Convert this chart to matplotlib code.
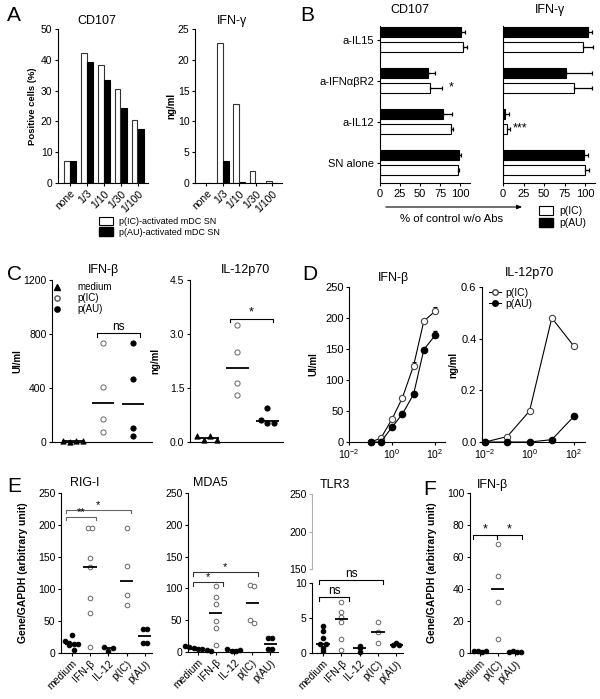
import numpy as np
import matplotlib
matplotlib.use("Agg")
import matplotlib.pyplot as plt
from matplotlib.patches import Patch
from matplotlib.lines import Line2D
from matplotlib.ticker import NullLocator, FormatStrFormatter

plt.rcParams["font.family"] = ["Liberation Sans", "DejaVu Sans"]
plt.rcParams["font.size"] = 7.5
plt.rcParams["mathtext.default"] = "regular"
plt.rcParams["axes.linewidth"] = 0.8
plt.rcParams["xtick.major.width"] = 0.8
plt.rcParams["ytick.major.width"] = 0.8
plt.rcParams["xtick.major.size"] = 2.5
plt.rcParams["ytick.major.size"] = 2.5
plt.rcParams["xtick.major.pad"] = 1.5
plt.rcParams["ytick.major.pad"] = 1.5

W, H = 600, 699

# A - NK activation by mDC supernatant dilutions
dil = ["none", "1/3", "1/10", "1/30", "1/100"]
a_cd107_ic = [7.3, 42.2, 38.2, 30.6, 20.3]
a_cd107_au = [7.3, 39.4, 33.3, 24.4, 17.4]
a_ifng_ic = [0.0, 22.8, 12.8, 1.9, 0.27]
a_ifng_au = [0.0, 3.5, 0.2, 0.0, 0.0]

# B - blocking antibodies, % of control
blk = ["a-IL15", "a-IFNαβR2", "a-IL12", "SN alone"]
b_cd107_ic = [103.7, 62.6, 88.5, 96.7]
b_cd107_ic_err = [5.0, 14.3, 2.5, 2.1]
b_cd107_au = [101.0, 59.6, 78.0, 98.0]
b_cd107_au_err = [4.8, 8.4, 11.0, 3.0]
b_ifng_ic = [97.0, 87.0, 5.3, 100.0]
b_ifng_ic_err = [13.0, 21.0, 3.2, 5.0]
b_ifng_au = [104.0, 77.0, 2.4, 99.0]
b_ifng_au_err = [4.0, 31.0, 4.9, 5.0]

# C - cytokines in mDC SN
c_ifnb_med = [5, 3, 4, 6]
c_ifnb_ic = [731, 405, 170, 72]
c_ifnb_au = [731, 467, 101, 47]
c_il12_med = [0.17, 0.05, 0.17, 0.05]
c_il12_ic = [3.25, 2.49, 1.63, 1.31]
c_il12_au = [0.95, 0.62, 0.52, 0.52]

# D - dose response
d_conc = [0.1, 0.3, 1, 3, 10, 30, 100]
d_ifnb_ic = [0, 6, 37, 71, 123, 195, 211]
d_ifnb_ic_err = [0, 0, 2, 2, 6, 3, 6]
d_ifnb_au = [0, 0, 24, 45, 77, 149, 172]
d_ifnb_au_err = [0, 0, 0, 0, 0, 0, 7]
d_il12_conc = [0.01, 0.1, 1, 10, 100]
d_il12_ic = [0, 0.021, 0.12, 0.48, 0.37]
d_il12_au = [0, 0, 0, 0.009, 0.10]

# E - gene expression
e_cat = ["medium", "IFN-β", "IL-12", "p(IC)", "p(AU)"]
rig_med = [28, 19, 15, 14, 14, 12, 5]
rig_ifnb = [196, 196, 148, 135, 86, 63, 9]
rig_il12 = [9, 3, 8]
rig_ic = [196, 136, 90, 75]
rig_au = [37, 37, 15, 15]
mda_med = [9, 8, 7, 5, 4, 3, 2]
mda_ifnb = [103, 87, 76, 48, 37, 11]
mda_il12 = [4, 2, 1, 3]
mda_ic = [105, 103, 51, 45]
mda_au = [22, 22, 4, 4]
tlr_med = [3.2, 3.8, 2.1, 1.3, 1.3, 0.7, 0.3]
tlr_ifnb = [7.3, 5.8, 5.2, 4.4, 2.0, 0.5]
tlr_il12 = [1.05, 0.7, 0.1]
tlr_ic = [4.5, 3.0, 1.4]
tlr_au = [1.5, 1.1, 1.1]

# F - IFN-b expression
f_cat = ["Medium", "p(IC)", "p(AU)"]
f_med = [1.0, 1.5, 0.6, 1.2]
f_ic = [68.3, 48.3, 31.9, 8.9]
f_au = [0.4, 1.0, 0.7, 0.9]

fig = plt.figure(figsize=(W / 100, H / 100), dpi=100)


def axes_px(l, t, r, b):
    ax = fig.add_axes([l / W, 1 - b / H, (r - l) / W, (b - t) / H])
    ax.spines["top"].set_visible(False)
    ax.spines["right"].set_visible(False)
    ax.px = (l, t, r, b)
    return ax


def ylab(ax, txt, xpx, fs=7):
    l, t, r, b = ax.px
    ax.set_ylabel(txt, fontweight="bold", fontsize=fs)
    ax.yaxis.set_label_coords((xpx - l) / (r - l), 0.5)


def ftext(xpx, ypx, txt, **kw):
    fig.text(xpx / W, 1 - ypx / H, txt, **kw)


def swarm(vals, tol, step):
    vals = np.asarray(vals, float)
    offs = np.zeros(len(vals))
    used = np.zeros(len(vals), bool)
    for i in np.argsort(vals):
        if used[i]:
            continue
        idx = [j for j in range(len(vals)) if not used[j] and abs(vals[j] - vals[i]) <= tol]
        for m, j in enumerate(idx):
            offs[j] = (m - (len(idx) - 1) / 2) * step
            used[j] = True
    return offs


def dots(ax, groups, fills, ymax, markers=None, s=12, half=0.36, step=0.24):
    for i, vals in enumerate(groups):
        mk = markers[i] if markers else "o"
        off = swarm(vals, 0.035 * ymax, step)
        if fills[i]:
            fc, ec = "black", "black"
        else:
            fc, ec = "white", "#666666"
        ax.scatter(i + off, vals, s=s, marker=mk, facecolor=fc, edgecolor=ec,
                   lw=0.7, zorder=3, clip_on=False)
        m = np.median(vals)
        ax.plot([i - half, i + half], [m, m], color="black", lw=1.3, zorder=4,
                solid_capstyle="butt")


def bracket(ax, x1, x2, y, txt, dy, color="black", fs=7.5):
    ax.plot([x1, x1, x2, x2], [y - dy, y, y, y - dy], color=color, lw=0.8,
            clip_on=False)
    ax.text((x1 + x2) / 2, y, txt, ha="center", va="bottom", fontsize=fs)


# ---------------- A
xa = np.arange(len(dil))
axA1 = axes_px(58, 29, 148, 183)
axA2 = axes_px(195, 29, 282, 183)
for ax, ic, au, ymax, step in [(axA1, a_cd107_ic, a_cd107_au, 50, 10),
                               (axA2, a_ifng_ic, a_ifng_au, 25, 5)]:
    ax.bar(xa - 0.19, ic, 0.34, color="white", edgecolor="#333333", lw=0.8)
    ax.bar(xa + 0.19, au, 0.34, color="black", edgecolor="black", lw=0.8)
    ax.set_xlim(-0.7, 4.6)
    ax.set_ylim(0, ymax)
    ax.set_yticks(np.arange(0, ymax + 1, step))
    ax.set_xticks(xa)
    ax.set_xticklabels(dil, rotation=45, ha="right", rotation_mode="anchor")
ylab(axA1, "Positive cells (%)", 37, fs=6.8)
ylab(axA2, "ng/ml", 176)
ftext(97, 21, "CD107", ha="center", va="center", fontsize=9)
ftext(232, 21, "IFN-γ", ha="center", va="center", fontsize=9)
fig.legend(handles=[Patch(facecolor="white", edgecolor="black", lw=0.8),
                    Patch(facecolor="black", edgecolor="black")],
           labels=["p(IC)-activated mDC SN", "p(AU)-activated mDC SN"],
           loc="upper left", bbox_to_anchor=(94 / W, 1 - 212 / H), frameon=False,
           handlelength=1.6, handleheight=1.0, handletextpad=0.7,
           labelspacing=0.2, borderpad=0, fontsize=6.5)

# ---------------- B
yb = np.arange(len(blk))
axB1 = axes_px(380, 26, 470, 183)
axB2 = axes_px(503, 26, 595, 183)
ekw = dict(lw=0.9, capsize=1.6, capthick=0.9, ecolor="black")
for ax, ic, ice, au, aue in [(axB1, b_cd107_ic, b_cd107_ic_err, b_cd107_au, b_cd107_au_err),
                             (axB2, b_ifng_ic, b_ifng_ic_err, b_ifng_au, b_ifng_au_err)]:
    ax.barh(yb - 0.18, au, 0.26, color="black", edgecolor="black", lw=0.8,
            xerr=[np.zeros(len(aue)), aue], error_kw=ekw)
    ax.barh(yb + 0.18, ic, 0.26, color="white", edgecolor="black", lw=0.8,
            xerr=[np.zeros(len(ice)), ice], error_kw=ekw)
    ax.set_xlim(0, 112)
    ax.set_ylim(3.5, -0.33)
    ax.set_xticks([0, 25, 50, 75, 100])
    ax.tick_params(axis="x", labelsize=8)
axB1.set_yticks(yb)
axB1.set_yticklabels(blk, fontsize=8)
axB2.set_yticks([])
axB1.text(86, 1.18, "*", ha="left", va="center", fontsize=9)
axB2.text(12, 2.18, "***", ha="left", va="center", fontsize=9)
ftext(410, 10, "CD107", ha="center", va="center", fontsize=9)
ftext(550, 10, "IFN-γ", ha="center", va="center", fontsize=9)
fig.add_artist(matplotlib.patches.FancyArrowPatch(
    (383 / W, 1 - 207 / H), (525 / W, 1 - 207 / H), transform=fig.transFigure,
    arrowstyle="-|>,head_length=3,head_width=1.2", lw=0.8, color="black"))
ftext(452, 219, "% of control w/o Abs", ha="center", va="center", fontsize=8.2)
fig.legend(handles=[Patch(facecolor="white", edgecolor="black", lw=0.8),
                    Patch(facecolor="black", edgecolor="black")],
           labels=["p(IC)", "p(AU)"],
           loc="upper left", bbox_to_anchor=(534 / W, 1 - 201 / H), frameon=False,
           handlelength=1.3, handleheight=0.9, handletextpad=0.6,
           labelspacing=0.15, borderpad=0, fontsize=7.5)

# ---------------- C
axC1 = axes_px(52, 280, 152, 442)
axC2 = axes_px(190, 280, 283, 442)
dots(axC1, [c_ifnb_med, c_ifnb_ic, c_ifnb_au], [True, False, True], 1200,
     markers=["^", "o", "o"], s=14, half=0.38, step=0.22)
axC1.set_xlim(-0.7, 2.63)
axC1.set_ylim(0, 1200)
axC1.set_yticks([0, 400, 800, 1200])
axC1.set_xticks([])
bracket(axC1, 0.8, 2.23, 805, "ns", 30, fs=8.5)
ylab(axC1, "UI/ml", 22)
dots(axC2, [c_il12_med, c_il12_ic, c_il12_au], [True, False, True], 4.5,
     markers=["^", "o", "o"], s=14, half=0.38, step=0.22)
axC2.set_xlim(-0.57, 2.53)
axC2.set_ylim(0, 4.5)
axC2.set_yticks([0, 1.5, 3.0, 4.5])
axC2.yaxis.set_major_formatter(FormatStrFormatter("%.1f"))
axC2.set_xticks([])
bracket(axC2, 0.77, 2.2, 3.43, "*", 0.1, fs=9)
ylab(axC2, "ng/ml", 160)
ftext(103, 270, "IFN-β", ha="center", va="center", fontsize=9)
ftext(245, 270, "IL-12p70", ha="center", va="center", fontsize=9)
axC1.legend(handles=[Line2D([], [], marker="^", ls="none", color="black", ms=3.8),
                     Line2D([], [], marker="o", ls="none", mfc="white", mec="#555555", ms=3.8),
                     Line2D([], [], marker="o", ls="none", color="black", ms=3.8)],
            labels=["medium", "p(IC)", "p(AU)"], loc="upper left",
            bbox_to_anchor=(52 / W, 1 - 282 / H), bbox_transform=fig.transFigure,
            frameon=False, handlelength=1, handletextpad=1.6, labelspacing=0.1,
            borderpad=0, borderaxespad=0, fontsize=7)

# ---------------- D
axD1 = axes_px(349, 287, 445, 442)
axD2 = axes_px(482, 287, 585, 442)
axD1.errorbar(d_conc, d_ifnb_ic, yerr=[np.zeros(len(d_conc)), d_ifnb_ic_err], color="black",
              lw=0.8, marker="o", ms=4.5, mfc="white", mec="#444444", mew=0.8,
              capsize=1.5, elinewidth=0.8, clip_on=False, zorder=3)
axD1.errorbar(d_conc, d_ifnb_au, yerr=[np.zeros(len(d_conc)), d_ifnb_au_err], color="black",
              lw=0.8, marker="o", ms=4.5, mfc="black", mec="black",
              capsize=1.5, elinewidth=0.8, clip_on=False, zorder=3)
axD1.set_ylim(0, 250)
axD1.set_yticks([0, 50, 100, 150, 200, 250])
ylab(axD1, "UI/ml", 318)
axD2.plot(d_il12_conc, d_il12_ic, color="black", lw=0.8, marker="o", ms=4.5,
          mfc="white", mec="#444444", mew=0.8, clip_on=False, zorder=3)
axD2.plot(d_il12_conc, d_il12_au, color="black", lw=0.8, marker="o", ms=4.5,
          mfc="black", mec="black", clip_on=False, zorder=3)
axD2.set_ylim(0, 0.6)
axD2.set_yticks([0, 0.2, 0.4, 0.6])
axD2.yaxis.set_major_formatter(FormatStrFormatter("%.1f"))
ylab(axD2, "ng/ml", 458)
for ax, lo, hi in [(axD1, -2.0, 2.46), (axD2, -2.135, 2.49)]:
    ax.set_xscale("log")
    ax.set_xlim(10 ** lo, 10 ** hi)
    ax.set_xticks([1e-2, 1, 1e2])
    ax.xaxis.set_minor_locator(NullLocator())
    ax.tick_params(axis="x", labelsize=7.5)
    ax.tick_params(axis="y", labelsize=8)
axD2.legend(handles=[Line2D([], [], color="black", lw=0.8, marker="o", ms=4,
                            mfc="white", mec="#444444"),
                     Line2D([], [], color="black", lw=0.8, marker="o", ms=4, mfc="black")],
            labels=["p(IC)", "p(AU)"], loc="upper left",
            bbox_to_anchor=(489 / W, 1 - 288 / H), bbox_transform=fig.transFigure,
            frameon=False, handlelength=1.2, handletextpad=0.4, labelspacing=0.05,
            borderpad=0, borderaxespad=0, fontsize=7.5)
ftext(393, 278, "IFN-β", ha="center", va="center", fontsize=9)
ftext(530, 273, "IL-12p70", ha="center", va="center", fontsize=9)

# ---------------- E
e_fill = [True, False, True, False, True]
xe = np.arange(len(e_cat))
axE1 = axes_px(61, 493, 152, 653)
axE2 = axes_px(188, 493, 278, 652)
axE3t = axes_px(312, 494, 403, 569)
axE3 = axes_px(312, 583, 403, 653)
gray = "#666666"

dots(axE1, [rig_med, rig_ifnb, rig_il12, rig_ic, rig_au], e_fill, 250, s=11)
axE1.set_xlim(-0.58, 4.39)
bracket(axE1, -0.31, 1.31, 213, "**", 5, color=gray, fs=8)
bracket(axE1, -0.31, 3.22, 223, "*", 5, color=gray, fs=8)
ylab(axE1, "Gene/GAPDH (arbitrary unit)", 28, fs=7.5)

dots(axE2, [mda_med, mda_ifnb, mda_il12, mda_ic, mda_au], e_fill, 250, s=11)
axE2.set_xlim(-0.55, 4.44)
bracket(axE2, -0.3, 1.37, 110.5, "*", 6, color="#333333", fs=8)
bracket(axE2, -0.3, 3.35, 126, "*", 6, color="#333333", fs=8)

for ax in (axE1, axE2):
    ax.set_ylim(0, 250)
    ax.set_yticks([0, 50, 100, 150, 200, 250])

dots(axE3, [tlr_med, tlr_ifnb, tlr_il12, tlr_ic, tlr_au], e_fill, 10, s=11, step=0.3)
axE3.set_xlim(-0.6, 4.37)
axE3.set_ylim(0, 10)
axE3.set_yticks([0, 5, 10])
bracket(axE3, -0.2, 1.44, 8.0, "ns", 0.5, fs=8.5)
bracket(axE3, -0.2, 3.3, 10.4, "ns", 0.5, fs=8.5)

axE3t.set_ylim(150, 250)
axE3t.set_yticks([150, 200, 250])
axE3t.set_xticks([])
axE3t.spines["bottom"].set_visible(False)
axE3t.spines["left"].set_color("#b0b0b0")
axE3t.tick_params(axis="y", color="#b0b0b0")

for ax in (axE1, axE2, axE3):
    ax.set_xticks(xe)
    ax.set_xticklabels(e_cat, rotation=45, ha="right", rotation_mode="anchor")

ftext(85, 483, "RIG-I", ha="center", va="center", fontsize=9)
ftext(210, 483, "MDA5", ha="center", va="center", fontsize=9)
ftext(335, 485, "TLR3", ha="center", va="center", fontsize=9)

# ---------------- F
axF = axes_px(470, 493, 523, 653)
dots(axF, [f_med, f_ic, f_au], [True, False, True], 100, s=11, half=0.38)
axF.set_xlim(-0.57, 2.45)
axF.set_ylim(0, 100)
axF.set_yticks([0, 20, 40, 60, 80, 100])
axF.set_xticks(np.arange(len(f_cat)))
axF.set_xticklabels(f_cat, rotation=45, ha="right", rotation_mode="anchor")
bracket(axF, -0.4, 0.97, 73.5, "*", 2, fs=9)
bracket(axF, 0.97, 2.4, 73.5, "*", 2, fs=9)
ylab(axF, "Gene/GAPDH (arbitrary unit)", 437, fs=7.5)
ftext(492, 485, "IFN-β", ha="center", va="center", fontsize=9)

# panel letters
for lt, xp, yp in [("A", 7, 6), ("B", 300, 6), ("C", 7, 265), ("D", 302, 265),
                   ("E", 7, 477), ("F", 423, 480)]:
    ftext(xp, yp, lt, ha="left", va="top", fontsize=15)

fig.savefig("out.png", dpi=100)
